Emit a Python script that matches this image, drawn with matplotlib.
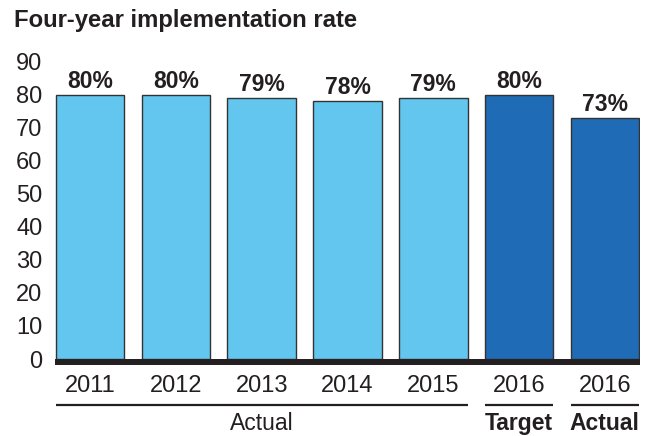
import matplotlib
matplotlib.use('Agg')
import matplotlib.pyplot as plt
import matplotlib.transforms as mtransforms

plt.rcParams['font.family'] = ['Liberation Sans', 'DejaVu Sans']

# 数据
years = ['2011', '2012', '2013', '2014', '2015', '2016', '2016']
rates = [80, 80, 79, 78, 79, 80, 73]
kinds = ['actual', 'actual', 'actual', 'actual', 'actual', 'target', 'actual']
# 分组标签: (文字, 起始下标, 结束下标, 是否加粗)
groups = [('Actual', 0, 4, False), ('Target', 5, 5, True), ('Actual', 6, 6, True)]
yticks = list(range(0, 100, 10))

text_color = '#231F20'
bar_colors = {'actual': '#63C6EF', 'target': '#1F6BB5'}
last_color = '#1F6BB5'

fig = plt.figure(figsize=(6.52, 4.36), dpi=100)
ax = fig.add_axes([55 / 652, 77 / 436, 585 / 652, 297.5 / 436])

colors = [bar_colors[k] for k in kinds]
colors[-1] = last_color
x = list(range(len(years)))
width = 0.8
bars = ax.bar(x, rates, width=width, color=colors, edgecolor='#333333', linewidth=1.0, zorder=2)

# 柱顶数值
for xi, v in zip(x, rates):
    ax.annotate(f'{v}%', (xi, v), xytext=(0, 5), textcoords='offset points',
                ha='center', va='baseline', fontsize=16.5, fontweight='bold',
                color=text_color, annotation_clip=False)

ax.set_xlim(-0.41, len(years) - 1 + 0.41)
ax.set_ylim(0, 90)
ax.set_yticks(yticks)
ax.set_xticks(x)
ax.set_xticklabels(years)
ax.tick_params(axis='y', length=0, pad=9, labelsize=17, labelcolor=text_color)
ax.tick_params(axis='x', length=0, pad=9, labelsize=17, labelcolor=text_color)

for side in ['top', 'right', 'left']:
    ax.spines[side].set_visible(False)
ax.spines['bottom'].set_linewidth(4.3)
ax.spines['bottom'].set_color('#231F20')
ax.spines['bottom'].set_position(('outward', 2.2))
ax.spines['bottom'].set_capstyle('butt')

# 分组下划线和标签
trans = mtransforms.blended_transform_factory(ax.transData, ax.transAxes)
for label, i0, i1, bold in groups:
    x0 = i0 - width / 2
    x1 = i1 + width / 2
    ax.plot([x0, x1], [-0.155, -0.155], transform=trans, color=text_color,
            linewidth=1.6, clip_on=False, solid_capstyle='butt')
    ax.text((x0 + x1) / 2, -0.24, label, transform=trans, ha='center', va='baseline',
            fontsize=16.5, fontweight='bold' if bold else 'normal', color=text_color)

fig.text(14 / 652, 1 - 27 / 436, 'Four-year implementation rate', ha='left', va='baseline',
         fontsize=17.2, fontweight='bold', color=text_color)

fig.savefig('out.png', dpi=100)
